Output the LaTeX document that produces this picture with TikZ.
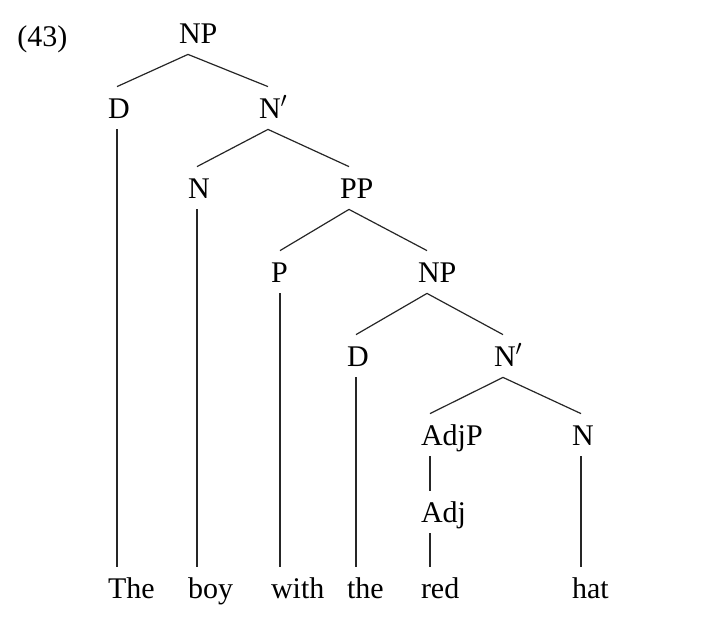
\documentclass[tikz,border=0pt]{standalone}
\usepackage{fontspec}
\setmainfont{Liberation Serif}
\tikzset{
lbl/.style={
  inner sep=0pt,
  text width=9pt,
  align=left,
  text height=15.5pt,
  text depth=5.5pt,
  anchor=base
},
branch/.style={line width=0.6pt, black!85}
}

\begin{document}
\begin{tikzpicture}[x=0.5pt,y=-0.5pt,font={\fontsize{15}{18}\selectfont}]
\useasboundingbox (0,0) rectangle (708,628);
\node[anchor=base west, inner sep=0pt] (ex) at (17,46) {(43)};
% categories
\node[lbl] (np1)  at (188,43)  {NP};
\node[lbl] (d1)   at (117,118) {D};
\node[lbl] (nb1)  at (268,118) {N$'$};
\node[lbl] (n1)   at (197,198) {N};
\node[lbl] (pp)   at (349,198) {PP};
\node[lbl] (p)    at (280,282) {P};
\node[lbl] (np2)  at (427,282) {NP};
\node[lbl] (d2)   at (356,366) {D};
\node[lbl] (nb2)  at (503,366) {N$'$};
\node[lbl] (adjp) at (430,445) {AdjP};
\node[lbl] (n2)   at (581,445) {N};
\node[lbl] (adj)  at (430,522) {Adj};
% words
\node[lbl] (w1) at (117,598) {The};
\node[lbl] (w2) at (197,598) {boy};
\node[lbl] (w3) at (280,598) {with};
\node[lbl] (w4) at (356,598) {the};
\node[lbl] (w5) at (430,598) {red};
\node[lbl] (w6) at (581,598) {hat};
% branches
\foreach \a/\b in {np1/d1, np1/nb1, nb1/n1, nb1/pp, pp/p, pp/np2,
                   np2/d2, np2/nb2, nb2/adjp, nb2/n2, adjp/adj,
                   d1/w1, n1/w2, p/w3, d2/w4, adj/w5, n2/w6}
  \draw[branch] (\a.south) -- (\b.north);
\end{tikzpicture}
\end{document}
